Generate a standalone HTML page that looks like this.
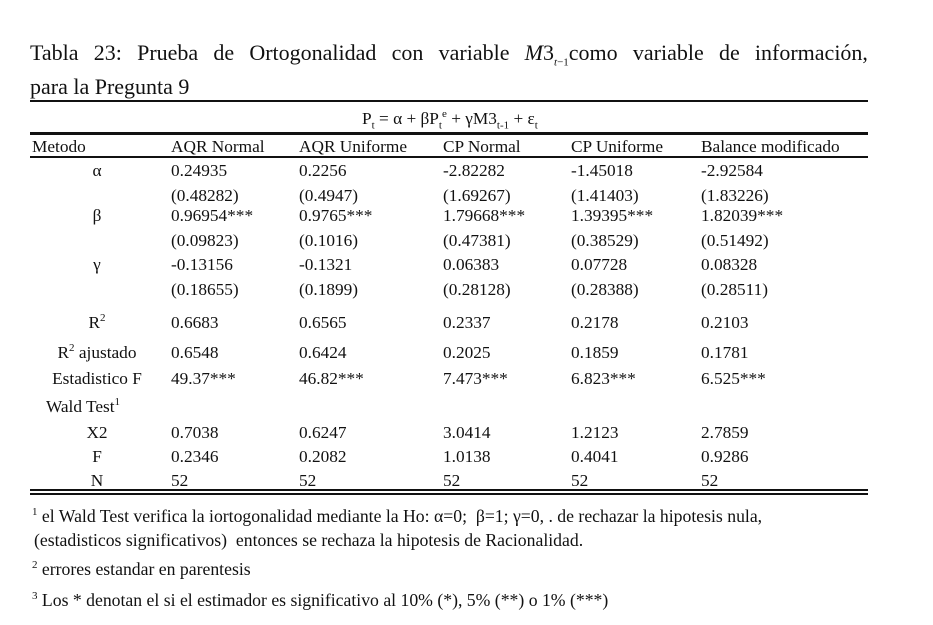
<!DOCTYPE html>
<html><head><meta charset="utf-8"><style>
body{margin:0;width:933px;height:625px;background:#fff;position:relative;overflow:hidden;font-family:"Liberation Serif",serif;color:#111}
.t{position:absolute;white-space:nowrap;font-size:17.3px;line-height:18px}
.fn{font-size:17.7px}
.ln{position:absolute;background:#111;left:30px;width:838px}
sub,sup{font-size:11px;line-height:0}
</style></head><body>
<div class="t" style="left:30px;top:40px;width:838px;font-size:22px;line-height:26px;display:flex;justify-content:space-between">
<span>Tabla</span><span>23:</span><span>Prueba</span><span>de</span><span>Ortogonalidad</span><span>con</span><span>variable</span><span><i>M</i>3<sub><i>t</i>−1</sub>como</span><span>variable</span><span>de</span><span>información,</span></div>
<div class="t" style="left:30px;top:74px;font-size:22px;line-height:26px">para la Pregunta 9</div>
<div class="ln" style="top:100px;height:2px"></div>
<div class="t" style="left:362px;top:110px">P<sub>t</sub> = α + βP<sub>t</sub><sup>e</sup> + γM3<sub>t-1</sub> + ε<sub>t</sub></div>
<div class="ln" style="top:132px;height:3px"></div>
<div class="ln" style="top:156px;height:2px"></div>
<div class="ln" style="top:489px;height:2px"></div>
<div class="ln" style="top:493px;height:2px"></div>
<div id="tbl"></div>
<div class="t fn" style="left:32px;top:507px"><sup>1</sup> el Wald Test verifica la iortogonalidad mediante la Ho: α=0;&nbsp; β=1; γ=0, . de rechazar la hipotesis nula,</div>
<div class="t fn" style="left:34px;top:531px">(estadisticos significativos)&nbsp; entonces se rechaza la hipotesis de Racionalidad.</div>
<div class="t fn" style="left:32px;top:560px"><sup>2</sup> errores estandar en parentesis</div>
<div class="t fn" style="left:32px;top:591px"><sup>3</sup> Los * denotan el si el estimador es significativo al 10% (*), 5% (**) o 1% (***)</div>
<script>
const headers=["AQR Normal","AQR Uniforme","CP Normal","CP Uniforme","Balance modificado"];
const rowLabels=["α","","β","","γ","","R<sup>2</sup>","R<sup>2</sup> ajustado","Estadistico F","Wald Test<sup>1</sup>","X2","F","N"];
const rowY=[161,186,206,231,255,280,313,343,369,399,423,447,471];
const labelX=[97,97,97,97,97,97,97,97,97,83,97,97,97];
const cells=[
["0.24935","0.2256","-2.82282","-1.45018","-2.92584"],
["(0.48282)","(0.4947)","(1.69267)","(1.41403)","(1.83226)"],
["0.96954***","0.9765***","1.79668***","1.39395***","1.82039***"],
["(0.09823)","(0.1016)","(0.47381)","(0.38529)","(0.51492)"],
["-0.13156","-0.1321","0.06383","0.07728","0.08328"],
["(0.18655)","(0.1899)","(0.28128)","(0.28388)","(0.28511)"],
["0.6683","0.6565","0.2337","0.2178","0.2103"],
["0.6548","0.6424","0.2025","0.1859","0.1781"],
["49.37***","46.82***","7.473***","6.823***","6.525***"],
["","","","",""],
["0.7038","0.6247","3.0414","1.2123","2.7859"],
["0.2346","0.2082","1.0138","0.4041","0.9286"],
["52","52","52","52","52"]];
const colX=[171,299,443,571,701];
const tbl=document.getElementById('tbl');
function mk(html,x,y,center){const d=document.createElement('div');d.className='t';d.innerHTML=html;d.style.left=x+'px';d.style.top=(y+1)+'px';if(center)d.style.transform='translateX(-50%)';tbl.appendChild(d);return d;}
let h=mk("Metodo",32,137);


headers.forEach((t,i)=>{const d=mk(t,colX[i],137);

});
rowLabels.forEach((l,r)=>{if(l){const d=mk(l,labelX[r],rowY[r],true);


if(r==9)d.style.top=(rowY[r]-1)+'px';}
cells[r].forEach((v,c)=>{if(!v)return;const d=mk(v,colX[c],rowY[r]);

});});
</script>
</body></html>
